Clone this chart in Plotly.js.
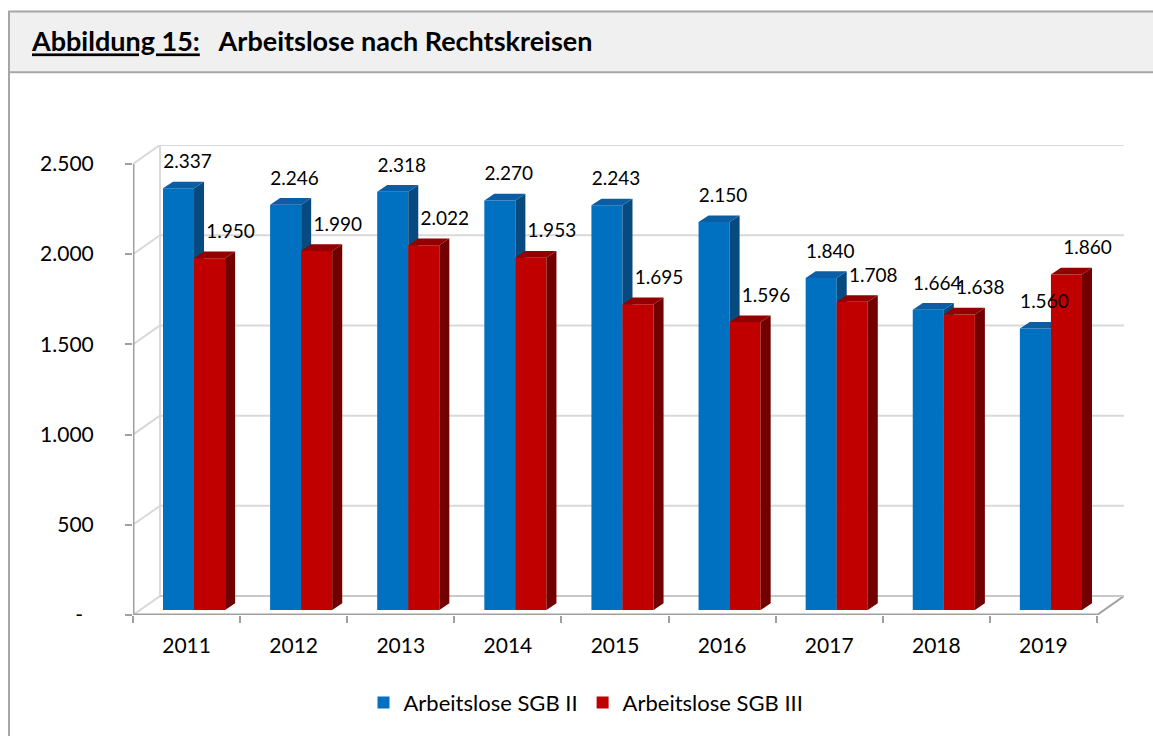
<!DOCTYPE html>
<html>
<head>
<meta charset="utf-8">
<script src="https://cdn.plot.ly/plotly-3.0.1.min.js"></script>
<style>html,body{margin:0;padding:0;background:#fff;}#chart{width:1153px;height:736px;}</style>
</head>
<body>
<div id="chart"></div>
<script>
// ---- data ----
const years = ['2011','2012','2013','2014','2015','2016','2017','2018','2019'];
const sgbII  = [2337, 2246, 2318, 2270, 2243, 2150, 1840, 1664, 1560];
const sgbIII = [1950, 1990, 2022, 1953, 1695, 1596, 1708, 1638, 1860];
const yTickVals = [0, 500, 1000, 1500, 2000, 2500];
const yTickText = ['-\u00a0\u00a0', '500', '1.000', '1.500', '2.000', '2.500'];
const seriesNames = ['Arbeitslose SGB II', 'Arbeitslose SGB III'];

// ---- geometry / style ----
const FONT = 'Lato, "Open Sans", sans-serif';
const Wd = 1153, Hd = 736;
const M = {l: 133, r: 29, t: 145, b: 119};
const PW = Wd - M.l - M.r, PH = Hd - M.t - M.b;
const U = 107.11;                 // px per category
const K = (617 - 164) / 2500;     // px per unit
const xRange = [-0.5, -0.5 + PW / U];
const yRange = [0, PH / K];
const nCat = years.length;
const idx = years.map((_, i) => i);

const WDX = 27 / U, WDY = 19 / K;   // wall depth offsets
const BASE = 5 / K;                 // bars sit slightly behind front plane
const BDX = 10 / U, BDY = 6.7 / K;  // bar depth
const BW = 0.29;
const OFF = [-0.22, 0.07];

const fmt = v => String(v).replace(/\B(?=(\d{3})+(?!\d))/g, '.');

function faceTraces(vals, off, sideColor, topColor, xa, ya) {
  const sx = [], sy = [], tx = [], ty = [];
  vals.forEach((v, i) => {
    const xL = i + off, xR = xL + BW, b = BASE, t = BASE + v;
    sx.push(xR, xR + BDX, xR + BDX, xR, xR, null);
    sy.push(b, b + BDY, t + BDY, t, b, null);
    tx.push(xL, xR, xR + BDX, xL + BDX, xL, null);
    ty.push(t, t, t + BDY, t + BDY, t, null);
  });
  const common = {type: 'scatter', mode: 'lines', fill: 'toself', line: {width: 0},
                  hoverinfo: 'skip', showlegend: false, xaxis: xa, yaxis: ya};
  return [Object.assign({x: sx, y: sy, fillcolor: sideColor}, common),
          Object.assign({x: tx, y: ty, fillcolor: topColor}, common)];
}

const blueFront = {type: 'bar', name: seriesNames[0], x: idx, y: sgbII, base: BASE,
  offset: OFF[0], width: BW, marker: {color: '#0070c0', line: {width: 0}},
  hoverinfo: 'skip', xaxis: 'x', yaxis: 'y'};
const redFront = {type: 'bar', name: seriesNames[1], x: idx, y: sgbIII, base: BASE,
  offset: OFF[1], width: BW, marker: {color: '#c00000', line: {width: 0}},
  hoverinfo: 'skip', xaxis: 'x2', yaxis: 'y2'};

const blueFaces = faceTraces(sgbII, OFF[0], '#064a80', '#0b5ea3', 'x', 'y');
const redFaces = faceTraces(sgbIII, OFF[1], '#720000', '#930000', 'x2', 'y2');

const labelUp = 25 / K;
const LABEL_FONT = {family: FONT, size: 19, color: '#000'};
const blueLabels = {type: 'scatter', mode: 'text', x: idx.map(i => i + OFF[0] + BW / 2 + 9 / U),
  y: sgbII.map(v => BASE + v + labelUp), text: sgbII.map(fmt), textposition: 'middle center',
  textfont: LABEL_FONT, hoverinfo: 'skip', showlegend: false,
  cliponaxis: false, xaxis: 'x2', yaxis: 'y2'};
const redLabels = {type: 'scatter', mode: 'text', x: idx.map(i => i + OFF[1] + BW / 2 + 21 / U),
  y: sgbIII.map(v => BASE + v + labelUp), text: sgbIII.map(fmt), textposition: 'middle center',
  textfont: LABEL_FONT, hoverinfo: 'skip', showlegend: false,
  cliponaxis: false, xaxis: 'x2', yaxis: 'y2'};

// ---- wall / floor shapes (derived from tick values) ----
const shapes = [];
const GRID = '#d9d9d9', AX = '#a0a0a0';
const xFront0 = -0.5, xFront1 = nCat - 0.5;
yTickVals.forEach(v => {
  shapes.push({type: 'line', xref: 'x', yref: 'y', layer: 'below',
    x0: xFront0 + WDX, x1: xFront1 + WDX, y0: v + WDY, y1: v + WDY,
    line: {color: GRID, width: 2}});
  shapes.push({type: 'line', xref: 'x', yref: 'y', layer: 'below',
    x0: xFront0, x1: xFront0 + WDX, y0: v, y1: v + WDY,
    line: {color: GRID, width: 2}});
});
const yTop = yTickVals[yTickVals.length - 1];
shapes.push({type: 'line', xref: 'x', yref: 'y', layer: 'below',
  x0: xFront0 + WDX, x1: xFront0 + WDX, y0: WDY, y1: yTop + WDY, line: {color: GRID, width: 2}});
// front y axis line
shapes.push({type: 'line', xref: 'x', yref: 'y', layer: 'above',
  x0: xFront0, x1: xFront0, y0: 0, y1: yTop, line: {color: AX, width: 3}});
// floor
shapes.push({type: 'line', xref: 'x', yref: 'y', layer: 'above',
  x0: xFront0, x1: xFront1, y0: 0, y1: 0, line: {color: AX, width: 3}});
shapes.push({type: 'line', xref: 'x', yref: 'y', layer: 'below',
  x0: xFront1, x1: xFront1 + WDX, y0: 0, y1: WDY, line: {color: AX, width: 2}});
shapes.push({type: 'line', xref: 'x', yref: 'y', layer: 'below',
  x0: xFront0 + WDX, x1: xFront1 + WDX, y0: WDY, y1: WDY, line: {color: '#c8c8c8', width: 2}});

// ---- frame (paper coords from pixels) ----
const px = p => (p - M.l) / PW;
const py = p => (Hd - M.b - p) / PH;
shapes.push({type: 'rect', xref: 'paper', yref: 'paper', layer: 'below',
  x0: px(9), x1: px(1160), y0: py(11), y1: py(72),
  fillcolor: '#f0f0f0', line: {color: '#a6a6a6', width: 2}});
shapes.push({type: 'line', xref: 'paper', yref: 'paper', layer: 'below',
  x0: px(9), x1: px(9), y0: py(72), y1: py(740), line: {color: '#a6a6a6', width: 2}});

const layout = {
  width: Wd, height: Hd, margin: M,
  paper_bgcolor: '#ffffff', plot_bgcolor: 'rgba(0,0,0,0)',
  font: {family: FONT, size: 21, color: '#000'},
  title: {text: '<span style="text-decoration:underline">Abbildung 15:</span>\u00a0\u00a0 Arbeitslose nach Rechtskreisen',
    xref: 'container', yref: 'container', x: 32 / Wd, xanchor: 'left', y: 1 - 42 / Hd, yanchor: 'middle',
    pad: {t: 0, b: 0, l: 0, r: 0},
    font: {family: FONT, size: 27, weight: 700, color: '#000'}},
  showlegend: true,
  legend: {orientation: 'h', x: px(586), xanchor: 'center', y: py(705), yanchor: 'middle',
    font: {family: FONT, size: 22, color: '#000'}, traceorder: 'normal', itemwidth: 30},
  barmode: 'overlay',
  xaxis: {range: xRange, tickmode: 'array', tickvals: idx, ticktext: years, ticks: '',
    showgrid: false, zeroline: false, showline: false, fixedrange: true,
    tickfont: {family: FONT, size: 21}, ticklabelstandoff: 16,
    minor: {tickmode: 'linear', tick0: -0.5, dtick: 1, ticks: 'outside', ticklen: 7,
      tickwidth: 2, tickcolor: AX, showgrid: false}},
  yaxis: {range: yRange, tickmode: 'array', tickvals: yTickVals, ticktext: yTickText,
    ticks: 'outside', ticklen: 7, tickwidth: 2, tickcolor: AX, showgrid: false,
    zeroline: false, showline: false, fixedrange: true, ticklabelstandoff: 27,
    tickfont: {family: FONT, size: 21}},
  xaxis2: {range: xRange, overlaying: 'x', anchor: 'y2', visible: false, fixedrange: true},
  yaxis2: {range: yRange, overlaying: 'y', anchor: 'x2', visible: false, fixedrange: true},
  shapes: shapes
};

const data = [blueFront, ...blueFaces, redFront, ...redFaces, blueLabels, redLabels];
Plotly.newPlot('chart', data, layout, {displayModeBar: false, staticPlot: true});
</script>
</body>
</html>
